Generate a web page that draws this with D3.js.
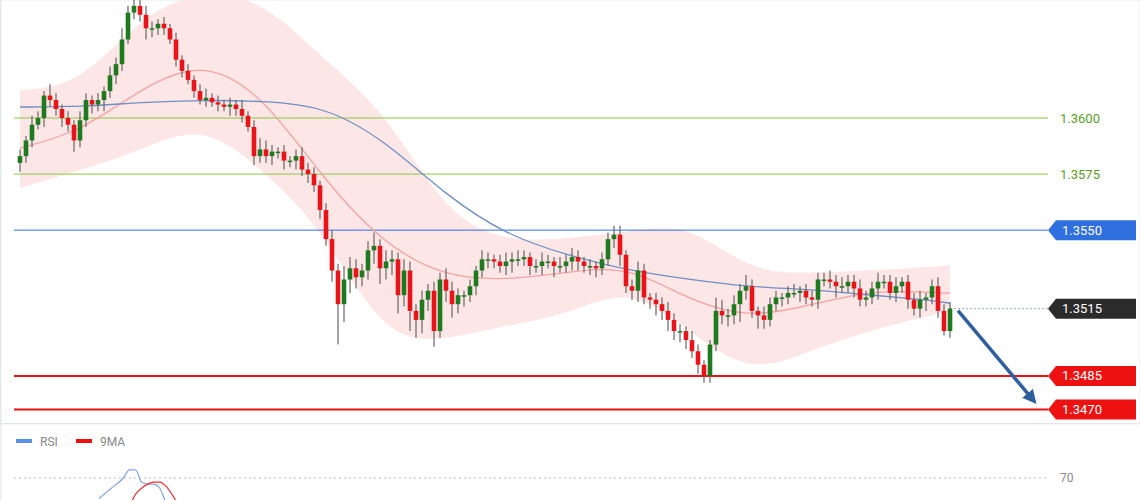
<!DOCTYPE html><html><head><meta charset="utf-8"><script src="https://cdn.jsdelivr.net/npm/d3@7"></script>
<style>body{margin:0;background:#fff}svg{font-family:Roboto,"Noto Sans",sans-serif}</style></head><body><svg id="c" width="1140" height="500"></svg>
<script>
const closes=[1.3583,1.3590,1.3597,1.3600,1.3610,1.3608,1.3604,1.3600,1.3597,1.3590,1.3599,1.3608,1.3606,1.3608,1.3612,1.3619,1.3624,1.3635,1.3647,1.3650,1.3646,1.3640,1.3640,1.3642,1.3640,1.3635,1.3626,1.3621,1.3617,1.3612,1.3608,1.3609,1.3607,1.3606,1.3605,1.3606,1.3604,1.3601,1.3596,1.3583,1.3586,1.3583,1.3585,1.3585,1.3581,1.3581,1.3583,1.3577,1.3575,1.3570,1.3559,1.3546,1.3532,1.3517,1.3528,1.3533,1.3529,1.3532,1.3541,1.3543,1.3533,1.3536,1.3537,1.3521,1.3532,1.3514,1.3510,1.3519,1.3523,1.3505,1.3528,1.3523,1.3517,1.3521,1.3521,1.3525,1.3532,1.3537,1.3537,1.3536,1.3534,1.3536,1.3537,1.3537,1.3538,1.3534,1.3534,1.3536,1.3536,1.3534,1.3534,1.3536,1.3538,1.3536,1.3534,1.3534,1.3533,1.3537,1.3546,1.3548,1.3539,1.3525,1.3523,1.3532,1.3520,1.3519,1.3517,1.3514,1.3510,1.3505,1.3505,1.3501,1.3496,1.3490,1.3485,1.3499,1.3514,1.3512,1.3512,1.3517,1.3523,1.3525,1.3514,1.3512,1.3510,1.3517,1.3520,1.3520,1.3522,1.3522,1.3523,1.3520,1.3519,1.3528,1.3528,1.3527,1.3525,1.3525,1.3527,1.3524,1.3519,1.3520,1.3524,1.3527,1.3527,1.3522,1.3525,1.3527,1.3519,1.3515,1.3519,1.3520,1.3525,1.3514,1.3505,1.3515];
const firstOpen=1.3580;
const wickUp=[3,2,4,3,2,5,3,2,3,2,4,3,2,3,2,4,3,5,3,4,3,4,3,2,3,2,3,2,3,2,3,4,2,3,2,3,2,4,2,3,5,4,3,2,3,2,3,4,3,3,2,3,4,3,6,5,4,3,4,6,3,5,4,3,5,4,3,4,3,4,3,5,4,3,2,3,2,4,3,2,3,4,3,4,3,2,3,4,3,2,4,3,4,3,2,3,2,3,3,4,4,2,3,4,3,2,3,3,4,3,3,2,4,3,2,2,6,5,3,4,3,5,3,2,4,3,3,2,3,4,2,3,3,3,3,4,3,4,3,3,4,3,3,4,3,3,4,2,3,3,4,2,3,4,3];
const wickDn=[4,3,3,2,4,3,3,4,3,5,3,3,4,3,5,3,4,3,2,3,3,5,4,3,3,2,3,3,2,3,2,3,2,3,2,4,3,3,2,4,3,3,4,3,4,3,4,3,4,3,4,3,5,18,8,6,5,4,4,6,7,5,6,8,5,9,8,6,5,7,3,5,6,4,5,3,4,3,4,3,3,4,5,3,3,4,3,4,3,5,3,3,4,4,3,4,4,3,3,4,5,3,4,5,3,4,5,4,5,4,5,4,3,4,3,3,3,4,5,4,8,4,3,6,4,3,3,4,3,2,4,3,3,4,3,3,5,3,3,4,3,3,3,5,3,3,4,3,4,3,4,5,3,3,2];
const indIdx=[0,10,20,30,40,50,60,70,80,90,100,110,120,130,140,150,153];
const fastMA=[1.35866,1.35938,1.36134,1.36259,1.36103,1.35723,1.35433,1.3529,1.35277,1.35312,1.35344,1.35188,1.35107,1.35165,1.35232,1.35223,1.35219];
const slowMA=[1.36049,1.36049,1.36071,1.3608,1.36076,1.36054,1.35902,1.35656,1.35478,1.35388,1.35321,1.35281,1.35246,1.35237,1.3521,1.35188,1.35174];
const bandUp=[1.36125,1.36147,1.3646,1.36571,1.36527,1.36259,1.36036,1.35567,1.35446,1.35464,1.35491,1.35536,1.35312,1.35308,1.35321,1.35335,1.35344];
const bandDn=[1.35688,1.35768,1.35857,1.35978,1.35768,1.355,1.35009,1.35009,1.35076,1.35121,1.35254,1.35054,1.34853,1.34964,1.35054,1.35121,1.35143];
const levels=[{v:1.3600,t:"1.3600",k:"green"},{v:1.3575,t:"1.3575",k:"green"},{v:1.3550,t:"1.3550",k:"blue"},{v:1.3515,t:"1.3515",k:"cur"},{v:1.3485,t:"1.3485",k:"red"},{v:1.3470,t:"1.3470",k:"red"}];
const rsiIdx=[13,15,17,18,19,20,21,22,23,24,26];
const rsiVals=[60,65,70,74,74,68,67,67,65,58,50];
const maIdx=[18,19,20,21,22,23,24,25,26,27];
const maVals=[56,62,65,67,68,68,66,62,57,50];

const svg=d3.select("#c");
const x=d3.scaleLinear().domain([0,153]).range([20,950]);
const xc=d3.scaleLinear().domain([0,closes.length-1]).range([20,950]);
const y=d3.scaleLinear().domain([1.3470,1.3600]).range([409.6,118]);
const pip=0.0001;
svg.append("rect").attr("x",0).attr("y",0).attr("width",1140).attr("height",424).attr("fill","none").attr("stroke","#e6e9ec");
svg.append("line").attr("x1",1).attr("x2",1).attr("y1",0).attr("y2",500).attr("stroke","#dfe3e6");
svg.append("line").attr("x1",0).attr("x2",1140).attr("y1",423.5).attr("y2",423.5).attr("stroke","#e3e6e9");
const band=indIdx.map((d,i)=>({i:d,u:bandUp[i],l:bandDn[i]}));
svg.append("path").datum(band).attr("fill","#fde3e3").attr("opacity",0.9)
 .attr("d",d3.area().curve(d3.curveBasis).x(d=>x(d.i)).y0(d=>y(d.l)).y1(d=>y(d.u)));
const lc={green:"#8cc63f",blue:"#2f6fdf",red:"#ee1111",cur:"#999"};
levels.forEach(l=>{
 if(l.k==="cur"){svg.append("line").attr("x1",x(153)).attr("x2",1048).attr("y1",y(l.v)).attr("y2",y(l.v)).attr("stroke","#9aa").attr("stroke-dasharray","2,2");}
 else svg.append("line").attr("x1",14).attr("x2",1048).attr("y1",y(l.v)).attr("y2",y(l.v)).attr("stroke",lc[l.k]).attr("stroke-width",l.k==="red"?2:1);
});
const lineG=d3.line().curve(d3.curveBasis).x(d=>x(d[0])).y(d=>y(d[1]));
svg.append("path").attr("d",lineG(indIdx.map((d,i)=>[d,fastMA[i]]))).attr("fill","none").attr("stroke","#f4a3a3").attr("stroke-width",1.3);
svg.append("path").attr("d",lineG(indIdx.map((d,i)=>[d,slowMA[i]]))).attr("fill","none").attr("stroke","#6f8fc6").attr("stroke-width",1.3);
const candles=closes.map((c,i)=>{const o=i?closes[i-1]:firstOpen;return{i,o,c,h:Math.max(o,c)+(wickUp[i]||3)*pip,l:Math.min(o,c)-(wickDn[i]||3)*pip};});
const g=svg.append("g");
candles.forEach(d=>{
 const cx=xc(d.i);
 g.append("line").attr("x1",cx).attr("x2",cx).attr("y1",y(d.h)).attr("y2",y(d.l)).attr("stroke","#666").attr("stroke-width",1.2);
 const top=y(Math.max(d.o,d.c)),bot=y(Math.min(d.o,d.c));
 g.append("rect").attr("x",cx-2.3).attr("width",4.6).attr("y",top).attr("height",Math.max(1.5,bot-top))
  .attr("fill",d.c>=d.o?"#1f7a1f":"#e8141a");
});
const ax1=x(153)+8,ay1=y(1.3515)+2,ax2=1040,ay2=y(1.3470)-2;
svg.append("defs").append("marker").attr("id","ah").attr("viewBox","0 0 10 10").attr("refX",5).attr("refY",5).attr("markerWidth",4).attr("markerHeight",4).attr("orient","auto")
 .append("path").attr("d","M0,0L10,5L0,10z").attr("fill","#2e5f9e");
svg.append("line").attr("x1",ax1).attr("y1",ay1).attr("x2",ax2-8).attr("y2",ay2-9).attr("stroke","#2e5f9e").attr("stroke-width",3.5).attr("marker-end","url(#ah)");
const boxC={blue:"#2f6fdf",cur:"#2b2b2b",red:"#ee1111"};
levels.forEach(l=>{
 const yy=y(l.v);
 if(l.k==="green"){svg.append("text").attr("x",1060).attr("y",yy+4.5).attr("font-size",13).attr("fill","#5a9e1e").text(l.t);}
 else{
  svg.append("path").attr("d",`M1048,${yy}L1056,${yy-10}H1136V${yy+10}H1056Z`).attr("fill",boxC[l.k]);
  svg.append("text").attr("x",1062).attr("y",yy+4.5).attr("font-size",13).attr("fill","#fff").text(l.t);
 }
});
svg.append("rect").attr("x",16).attr("y",439).attr("width",16).attr("height",4).attr("fill","#5b8ee6");
svg.append("text").attr("x",40).attr("y",446).attr("font-size",12).attr("fill","#888").text("RSI");
svg.append("rect").attr("x",76).attr("y",439).attr("width",16).attr("height",4).attr("fill","#ee1111");
svg.append("text").attr("x",100).attr("y",446).attr("font-size",12).attr("fill","#888").text("9MA");
const ry=d3.scaleLinear().domain([70,30]).range([478,560]);
svg.append("line").attr("x1",14).attr("x2",1048).attr("y1",ry(70)).attr("y2",ry(70)).attr("stroke","#bbb").attr("stroke-dasharray","2,3");
svg.append("text").attr("x",1060).attr("y",ry(70)+4).attr("font-size",12).attr("fill","#888").text("70");
const rl=d3.line().curve(d3.curveMonotoneX).x(d=>x(d[0])).y(d=>ry(d[1]));
svg.append("path").attr("d",rl(rsiIdx.map((d,i)=>[d,rsiVals[i]]))).attr("fill","none").attr("stroke","#7ea3ea").attr("stroke-width",1.2);
svg.append("path").attr("d",rl(maIdx.map((d,i)=>[d,maVals[i]]))).attr("fill","none").attr("stroke","#ee3333").attr("stroke-width",1.2);
</script></body></html>
